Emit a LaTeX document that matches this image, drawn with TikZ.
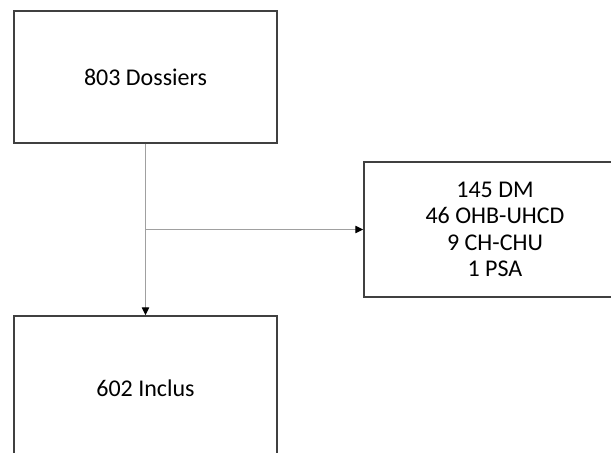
\documentclass[tikz,border=0pt]{standalone}
\usepackage{fontspec}
\setmainfont{Carlito}
\usetikzlibrary{arrows.meta}
\definecolor{boxline}{HTML}{404040}
\definecolor{flowline}{HTML}{A0A0A0}
\tikzset{
  flowbox/.style={draw=boxline,line width=1.1pt,fill=white,anchor=center,
    align=center,font=\fontsize{18}{19.9}\selectfont,inner sep=0pt},
  flowarrow/.style={draw=flowline,line width=1pt,
    -{Triangle[length=6pt,width=5.5pt,color=black]}},
}
\begin{document}
\begin{tikzpicture}[x=0.75pt,y=0.75pt]
        \useasboundingbox (0,0) rectangle (611,-453);
        \clip (0,0) rectangle (611,-453);
        %% Boxes
        \node[flowbox,minimum width=197.5pt,minimum height=99pt] (dossiers) at (145.5,-77) {803 Dossiers};
        \node[flowbox,minimum width=196.5pt,minimum height=101pt] (exclus) at (495,-229.5)
          {145 DM\\46 OHB-UHCD\\9 CH-CHU\\1 PSA};
        \node[flowbox,minimum width=197.5pt,minimum height=108pt] (inclus) at (145.5,-388) {602 Inclus};
        %% Arrows
        \coordinate (split) at (dossiers.south |- exclus.west);
        \draw[flowarrow] (dossiers.south) to (inclus.north);
        \draw[flowarrow] (split) to (exclus.west);
    \end{tikzpicture}
\end{document}
